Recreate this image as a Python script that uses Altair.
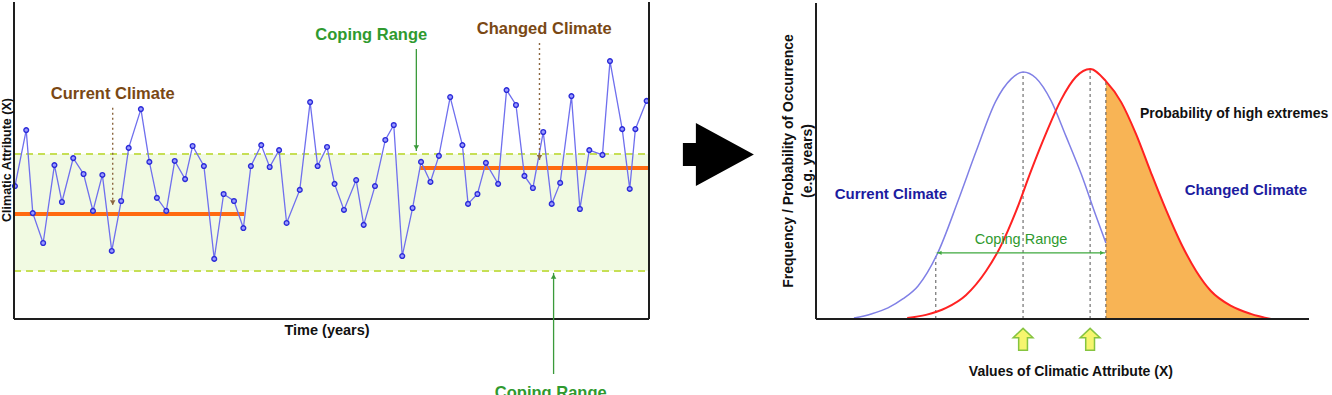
import altair as alt
import pandas as pd

# ---------------- left panel: time series ----------------
years = [0.1, 1.3, 2.0, 3.1, 4.3, 5.1, 6.3, 7.4, 8.4, 9.4,
         10.4, 11.4, 12.2, 13.5, 14.4, 15.2, 16.2, 17.1, 18.2, 19.0,
         20.2, 21.3, 22.3, 23.4, 24.4, 25.2, 26.3, 27.2, 28.2, 29.0,
         30.4, 31.5, 32.3, 33.3, 34.1, 35.1, 36.4, 37.2, 38.4, 39.5,
         40.4, 41.3, 42.4, 43.3, 44.3, 45.2, 46.4, 47.7, 48.3, 49.3,
         50.2, 51.5, 52.4, 53.4, 54.3, 55.2, 56.3, 57.2, 58.1, 59.3,
         60.2, 61.2, 62.6, 63.4, 64.7, 65.5, 66.1, 67.3]
attribute = [41.8, 59.4, 33.3, 23.9, 48.4, 36.8, 50.6, 45.6, 34.0, 45.3,
             21.4, 37.1, 53.8, 66.0, 49.4, 38.1, 34.0, 49.7, 44.0, 54.4,
             48.1, 18.9, 39.3, 37.1, 28.6, 48.1, 54.7, 47.8, 53.1, 30.2,
             40.6, 68.2, 48.1, 54.1, 42.5, 34.3, 43.7, 29.6, 41.8, 56.3,
             61.0, 19.8, 34.9, 49.4, 43.1, 51.3, 69.8, 54.7, 36.2, 39.3,
             49.1, 42.5, 72.0, 67.3, 45.0, 41.2, 58.8, 36.2, 42.8, 70.1,
             34.6, 53.1, 51.6, 81.1, 59.7, 40.9, 59.7, 68.6]
T_MAX = 67.55
band_low, band_high = 15.1, 51.9
mean_start = [0.0, 43.2]
mean_end = [24.5, T_MAX]
mean_level = [33.0, 47.5]

left_labels = ["Current Climate", "Coping Range", "Changed Climate", "Coping Range"]
left_label_t = [10.5, 38.0, 56.4, 57.1]
left_label_v = [70.8, 89.3, 91.2, -23.3]
left_label_col = ["#7A4814", "#2F9A2F", "#7A4814", "#2F9A2F"]

arrow_t = [10.5, 42.8, 55.9, 57.4]
arrow_from = [66.4, 84.9, 86.8, -17.3]
arrow_to = [35.5, 52.8, 49.7, 14.5]
arrow_col = ["#8B6640", "#3A9A3A", "#8B6640", "#3A9A3A"]
arrow_dotted = [True, False, True, False]
arrow_head = ["triangle-down", "triangle-down", "triangle-down", "triangle-up"]

# ---------------- right panel: distributions ----------------
blue_u = [7.7, 11.2, 14.6, 17.6, 20.7, 24.7, 28.8, 32.5, 36.5, 39.6, 42.0,
          44.6, 47.7, 50.7, 53.8, 56.8, 58.8]
blue_f = [0.3, 1.6, 3.5, 6.3, 10.4, 20.8, 37.1, 52.8, 68.6, 75.5, 77.7,
          75.8, 68.6, 57.5, 45.6, 32.4, 23.9]
red_u = [18.5, 22.3, 26.4, 30.4, 34.5, 37.5, 40.6, 43.6, 46.7, 49.7, 52.7, 55.6,
         58.8, 61.9, 64.9, 67.9, 71.0, 74.1, 77.1, 80.1, 84.2, 88.2, 92.3]
red_f = [0.3, 1.3, 3.5, 7.5, 15.1, 23.0, 34.0, 46.5, 58.5, 68.9, 76.1, 78.6,
         74.8, 68.2, 58.2, 46.2, 34.3, 23.6, 15.1, 8.8, 4.1, 1.6, 0.0]
extreme_from = 58.8

guide_u = [24.3, 42.0, 55.6, 58.8]
guide_top = [20.8, 77.7, 78.6, 74.8]
coping_u = [24.5, 58.6]
coping_f = 20.8
mean_marks_u = [42.0, 55.6]

right_bold = ["Current Climate", "Changed Climate"]
right_bold_u = [15.2, 87.2]
right_bold_f = [39.3, 40.6]
right_black = ["Probability of high extremes", "Values of Climatic Attribute (X)"]
right_black_u = [84.8, 51.7]
right_black_f = [64.5, -16.7]

SANS = "Liberation Sans, Arial, sans-serif"

# ======================= LEFT CHART =======================
xL = alt.Scale(domain=[0, T_MAX], nice=False, zero=False)
yL = alt.Scale(domain=[0, 100], nice=False, zero=False)

band_df = pd.DataFrame({"t0": [0.0], "t1": [T_MAX], "lo": [band_low], "hi": [band_high]})
band = alt.Chart(band_df).mark_rect(color="#F1FAE2").encode(
    x=alt.X("t0:Q", scale=xL, axis=None), x2="t1:Q",
    y=alt.Y("lo:Q", scale=yL, axis=None), y2="hi:Q")

edge_df = pd.DataFrame({"t0": [0.0, 0.0], "t1": [T_MAX, T_MAX], "v": [band_low, band_high]})
edges = alt.Chart(edge_df).mark_rule(color="#C6DF55", strokeWidth=2, strokeDash=[7, 5]).encode(
    x=alt.X("t0:Q", scale=xL, axis=None), x2="t1:Q",
    y=alt.Y("v:Q", scale=yL, axis=None))

mean_df = pd.DataFrame({"t0": mean_start, "t1": mean_end, "v": mean_level})
means = alt.Chart(mean_df).mark_rule(color="#FF6A10", strokeWidth=4).encode(
    x=alt.X("t0:Q", scale=xL, axis=None), x2="t1:Q",
    y=alt.Y("v:Q", scale=yL, axis=None))

ser_df = pd.DataFrame({"t": years, "v": attribute})
ser_line = alt.Chart(ser_df).mark_line(color="#6F6FEE", strokeWidth=1.3).encode(
    x=alt.X("t:Q", scale=xL, axis=None), y=alt.Y("v:Q", scale=yL, axis=None))
ser_pts = alt.Chart(ser_df).mark_point(shape="circle", size=22, filled=True, fill="#9A9AFF",
                                      stroke="#2B2BD8", strokeWidth=1.4, opacity=1).encode(
    x=alt.X("t:Q", scale=xL, axis=None), y=alt.Y("v:Q", scale=yL, axis=None))

frame_df = pd.DataFrame({"ta": [0.0, T_MAX, 0.0], "tb": [0.0, T_MAX, T_MAX],
                         "va": [0.0, 0.0, 0.0], "vb": [99.7, 99.7, 0.0]})
frame = alt.Chart(frame_df).mark_rule(color="#1E1E1E", strokeWidth=2).encode(
    x=alt.X("ta:Q", scale=xL, axis=None), x2="tb:Q",
    y=alt.Y("va:Q", scale=yL, axis=None), y2="vb:Q")

arr_df = pd.DataFrame({"t": arrow_t, "a": arrow_from, "b": arrow_to, "col": arrow_col,
                       "dotted": arrow_dotted, "head": arrow_head})
arr_df["hv"] = [b + (1.1 if h == "triangle-down" else -1.1) for b, h in zip(arrow_to, arrow_head)]
shafts_dot = alt.Chart(arr_df[arr_df["dotted"]]).mark_rule(strokeWidth=1.4, strokeDash=[2, 3]).encode(
    x=alt.X("t:Q", scale=xL, axis=None), y=alt.Y("a:Q", scale=yL, axis=None), y2="b:Q",
    color=alt.Color("col:N", scale=None))
shafts_solid = alt.Chart(arr_df[~arr_df["dotted"]]).mark_rule(strokeWidth=1.3).encode(
    x=alt.X("t:Q", scale=xL, axis=None), y=alt.Y("a:Q", scale=yL, axis=None), y2="b:Q",
    color=alt.Color("col:N", scale=None))
heads = alt.Chart(arr_df).mark_point(filled=True, size=30, opacity=1).encode(
    x=alt.X("t:Q", scale=xL, axis=None), y=alt.Y("hv:Q", scale=yL, axis=None),
    shape=alt.Shape("head:N", scale=None), color=alt.Color("col:N", scale=None))

lab_df = pd.DataFrame({"text": left_labels, "t": left_label_t, "v": left_label_v, "col": left_label_col})
labels_l = alt.Chart(lab_df).mark_text(font=SANS, fontSize=16.5, fontWeight="bold").encode(
    x=alt.X("t:Q", scale=xL, axis=None), y=alt.Y("v:Q", scale=yL, axis=None),
    text="text:N", color=alt.Color("col:N", scale=None))

xt_df = pd.DataFrame({"text": ["Time (years)"], "t": [33.3], "v": [-3.8]})
xtitle_l = alt.Chart(xt_df).mark_text(font=SANS, fontSize=14.5, fontWeight="bold", color="#111").encode(
    x=alt.X("t:Q", scale=xL, axis=None), y=alt.Y("v:Q", scale=yL, axis=None), text="text:N")

yt_df = pd.DataFrame({"text": ["Climatic Attribute (X)"], "t": [-0.745], "v": [50.0]})
ytitle_l = alt.Chart(yt_df).mark_text(font=SANS, fontSize=12.5, fontWeight="bold", color="#111",
                                      angle=270, baseline="middle").encode(
    x=alt.X("t:Q", scale=xL, axis=None), y=alt.Y("v:Q", scale=yL, axis=None), text="text:N")

left = alt.layer(band, edges, means, ser_line, ser_pts, frame, shafts_dot, shafts_solid, heads,
                 labels_l, xtitle_l, ytitle_l).properties(width=635, height=318)

# ======================= RIGHT CHART =======================
xR = alt.Scale(domain=[0, 100], nice=False, zero=False)
yR = alt.Scale(domain=[0, 100], nice=False, zero=False)

red_df = pd.DataFrame({"u": red_u, "f": red_f})
blue_df = pd.DataFrame({"u": blue_u, "f": blue_f})

hatch = alt.Chart(red_df).transform_filter(alt.datum.u >= extreme_from).mark_area(
    interpolate="monotone", color="#F8B455", opacity=1).encode(
    x=alt.X("u:Q", scale=xR, axis=None), y=alt.Y("f:Q", scale=yR, axis=None))

guide_df = pd.DataFrame({"u": guide_u, "top": guide_top, "zero": [0.0] * len(guide_u)})
guides = alt.Chart(guide_df).mark_rule(color="#555555", strokeWidth=1, strokeDash=[3, 3]).encode(
    x=alt.X("u:Q", scale=xR, axis=None), y=alt.Y("zero:Q", scale=yR, axis=None), y2="top:Q")

blue_line = alt.Chart(blue_df).mark_line(color="#8080E6", strokeWidth=1.5, interpolate="monotone").encode(
    x=alt.X("u:Q", scale=xR, axis=None), y=alt.Y("f:Q", scale=yR, axis=None))
red_line = alt.Chart(red_df).mark_line(color="#FF2222", strokeWidth=2, interpolate="monotone").encode(
    x=alt.X("u:Q", scale=xR, axis=None), y=alt.Y("f:Q", scale=yR, axis=None))

axes_df = pd.DataFrame({"ua": [0.0, 0.0], "ub": [0.0, 100.0], "fa": [0.0, 0.0], "fb": [99.4, 0.0]})
axes_r = alt.Chart(axes_df).mark_rule(color="#1E1E1E", strokeWidth=2).encode(
    x=alt.X("ua:Q", scale=xR, axis=None), x2="ub:Q",
    y=alt.Y("fa:Q", scale=yR, axis=None), y2="fb:Q")

cop_df = pd.DataFrame({"u0": [coping_u[0]], "u1": [coping_u[1]], "f": [coping_f]})
cop_rule = alt.Chart(cop_df).mark_rule(color="#3EA83E", strokeWidth=1.2).encode(
    x=alt.X("u0:Q", scale=xR, axis=None), x2="u1:Q", y=alt.Y("f:Q", scale=yR, axis=None))
cop_heads_df = pd.DataFrame({"u": [coping_u[0] + 0.6, coping_u[1] - 0.6], "f": [coping_f, coping_f],
                             "s": ["triangle-left", "triangle-right"]})
cop_heads = alt.Chart(cop_heads_df).mark_point(filled=True, size=18, opacity=1, color="#3EA83E").encode(
    x=alt.X("u:Q", scale=xR, axis=None), y=alt.Y("f:Q", scale=yR, axis=None),
    shape=alt.Shape("s:N", scale=None))
cop_text = alt.Chart(pd.DataFrame({"text": ["Coping Range"], "u": [41.6], "f": [24.8]})).mark_text(
    font=SANS, fontSize=14.5, color="#2F9A2F").encode(
    x=alt.X("u:Q", scale=xR, axis=None), y=alt.Y("f:Q", scale=yR, axis=None), text="text:N")

rb_df = pd.DataFrame({"text": right_bold, "u": right_bold_u, "f": right_bold_f})
rb_text = alt.Chart(rb_df).mark_text(font=SANS, fontSize=15, fontWeight="bold", color="#1C1CA0").encode(
    x=alt.X("u:Q", scale=xR, axis=None), y=alt.Y("f:Q", scale=yR, axis=None), text="text:N")
rk_df = pd.DataFrame({"text": right_black, "u": right_black_u, "f": right_black_f})
rk_text = alt.Chart(rk_df).mark_text(font=SANS, fontSize=14, fontWeight="bold", color="#111").encode(
    x=alt.X("u:Q", scale=xR, axis=None), y=alt.Y("f:Q", scale=yR, axis=None), text="text:N")

ry_df = pd.DataFrame({"text": ["Frequency / Probability of Occurrence", "(e.g. years)"],
                      "u": [-5.5, -1.7], "f": [49.7, 49.7]})
ry_text = alt.Chart(ry_df).mark_text(font=SANS, fontSize=14, fontWeight="bold", color="#111",
                                     angle=270, baseline="middle").encode(
    x=alt.X("u:Q", scale=xR, axis=None), y=alt.Y("f:Q", scale=yR, axis=None), text="text:N")

UP_ARROW = "M0,-1L0.9,-0.15L0.4,-0.15L0.4,1L-0.4,1L-0.4,-0.15L-0.9,-0.15Z"
mm_df = pd.DataFrame({"u": mean_marks_u, "f": [-6.4, -6.4]})
mean_marks = alt.Chart(mm_df).mark_point(shape=UP_ARROW, size=484, filled=True, fill="#F6F56E",
                                         stroke="#86C440", strokeWidth=1.5, opacity=1).encode(
    x=alt.X("u:Q", scale=xR, axis=None), y=alt.Y("f:Q", scale=yR, axis=None))

BLOCK_ARROW = "M-1,-0.324L-0.634,-0.324L-0.634,-0.887L1,0L-0.634,0.887L-0.634,0.324L-1,0.324Z"
ba_df = pd.DataFrame({"u": [-19.8], "f": [51.7]})
block_arrow = alt.Chart(ba_df).mark_point(shape=BLOCK_ARROW, size=5041, filled=True, color="#000000",
                                          opacity=1, strokeWidth=0).encode(
    x=alt.X("u:Q", scale=xR, axis=None), y=alt.Y("f:Q", scale=yR, axis=None))

right = alt.layer(hatch, guides, blue_line, red_line, axes_r, cop_rule, cop_heads, cop_text,
                  rb_text, rk_text, ry_text, mean_marks, block_arrow).properties(width=493, height=318)

chart = alt.hconcat(left, right, spacing=167, bounds="flush").properties(padding=0).configure_view(stroke=None)

chart.save("out.html", embed_options={"renderer": "svg", "actions": False})
